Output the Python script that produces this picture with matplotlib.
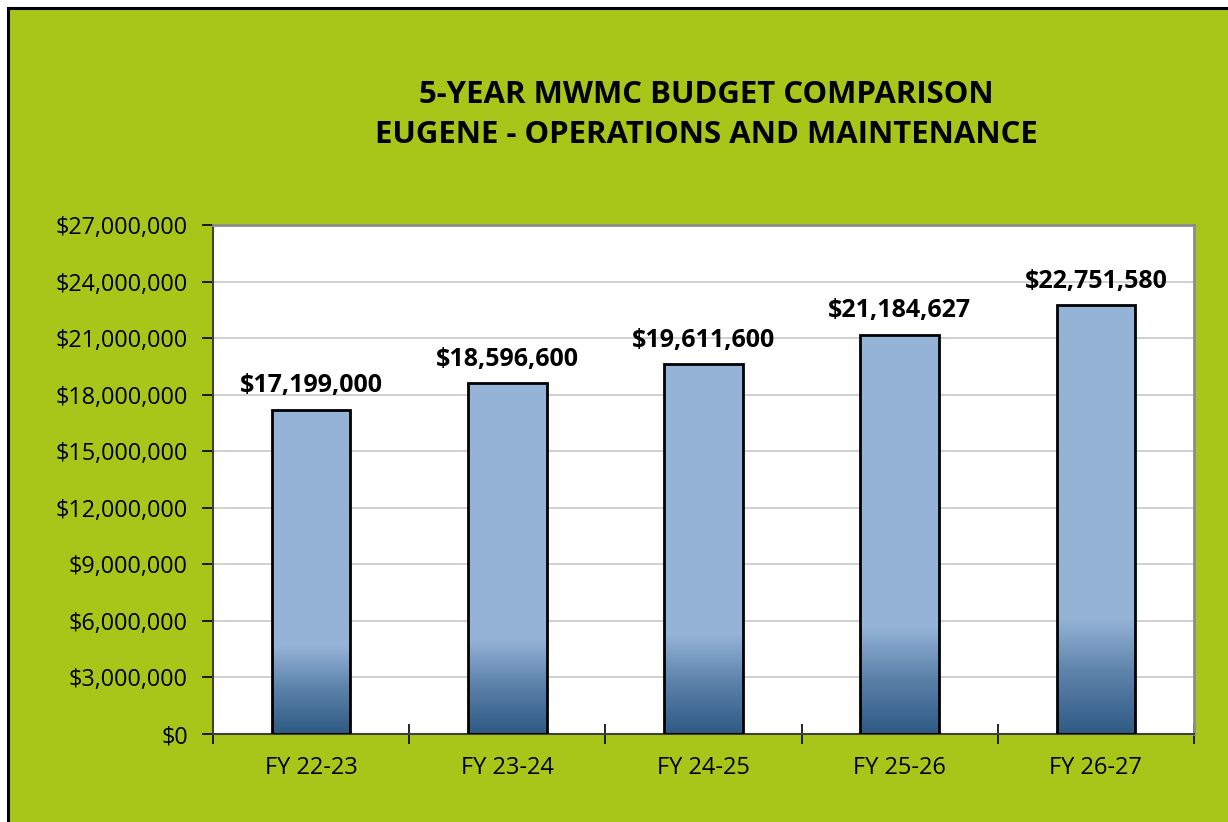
import numpy as np
import matplotlib
matplotlib.use("Agg")
import matplotlib.pyplot as plt
from matplotlib.patches import Rectangle
from matplotlib.colors import LinearSegmentedColormap
from matplotlib.ticker import FuncFormatter, MultipleLocator

categories = ["FY 22-23", "FY 23-24", "FY 24-25", "FY 25-26", "FY 26-27"]
values = [17199000, 18596600, 19611600, 21184627, 22751580]
title_lines = ["5-YEAR MWMC BUDGET COMPARISON", "EUGENE - OPERATIONS AND MAINTENANCE"]

GREEN = "#A8C61A"
W, H = 1228, 822
fig = plt.figure(figsize=(W/100, H/100), dpi=100)
fig.patch.set_facecolor("white")
fig.patches.append(Rectangle((8/W, -0.05), 1.1, 1 - 8/H + 0.05, transform=fig.transFigure,
                             facecolor=GREEN, edgecolor="black", linewidth=2.2, zorder=-10))

ax = fig.add_axes([213/W, 1 - 734/H, (1194-213)/W, (734-225)/H])
ax.set_facecolor("white")
x = np.arange(len(categories))
bw = 0.4
cmap = LinearSegmentedColormap.from_list("g", ["#2E5A84", "#5A80A8", "#95B3D7"])
grad = np.linspace(0, 1, 256).reshape(-1, 1)
for xi, v in zip(x, values):
    gh = 0.27 * v
    ax.imshow(grad, extent=(xi - bw/2, xi + bw/2, 0, gh), origin="lower", cmap=cmap,
              aspect="auto", zorder=2, interpolation="bilinear")
    ax.add_patch(Rectangle((xi - bw/2, gh), bw, v - gh, facecolor="#95B3D7", edgecolor="none", zorder=2))
bars = ax.bar(x, values, width=bw, facecolor="none", edgecolor="black", linewidth=2, zorder=3)
for xi, v in zip(x, values):
    ax.text(xi, v + 600000, "${:,.0f}".format(v), ha="center", va="bottom",
            fontsize=18, fontweight="bold", family="Open Sans", zorder=4)

ax.set_xlim(-0.5, len(categories) - 0.5)
ax.set_ylim(0, 27000000)
ax.yaxis.set_major_locator(MultipleLocator(3000000))
ax.yaxis.set_major_formatter(FuncFormatter(lambda v, p: "${:,.0f}".format(v)))
ax.grid(axis="y", color="#C8C8C8", linewidth=1.2, zorder=0)
ax.set_axisbelow(True)
ax.set_xticks(x)
ax.set_xticklabels(categories)
ax.set_xticks(np.arange(-0.5, len(categories)), minor=True)
ax.tick_params(axis="x", which="major", length=0, pad=16, labelsize=17)
ax.tick_params(axis="x", which="minor", length=14, direction="inout", width=1.2)
ax.tick_params(axis="y", length=8, direction="out", width=1.2, labelsize=16.8, pad=10)
for lab in ax.get_xticklabels() + ax.get_yticklabels():
    lab.set_family("Open Sans")
for s in ["top", "right"]:
    ax.spines[s].set_color("#8C8C8C")
    ax.spines[s].set_linewidth(2)
ax.spines["left"].set_color("#404040")
ax.spines["left"].set_linewidth(1.5)
ax.spines["bottom"].set_color("#404040")
ax.spines["bottom"].set_linewidth(1.5)

fig.text(706/W, 1 - 95/H, title_lines[0], ha="center", va="center", fontsize=22.4,
         fontweight="bold", family="Open Sans")
fig.text(706/W, 1 - 135/H, title_lines[1], ha="center", va="center", fontsize=22.4,
         fontweight="bold", family="Open Sans")

fig.savefig("out.png", dpi=100, facecolor=fig.get_facecolor())
